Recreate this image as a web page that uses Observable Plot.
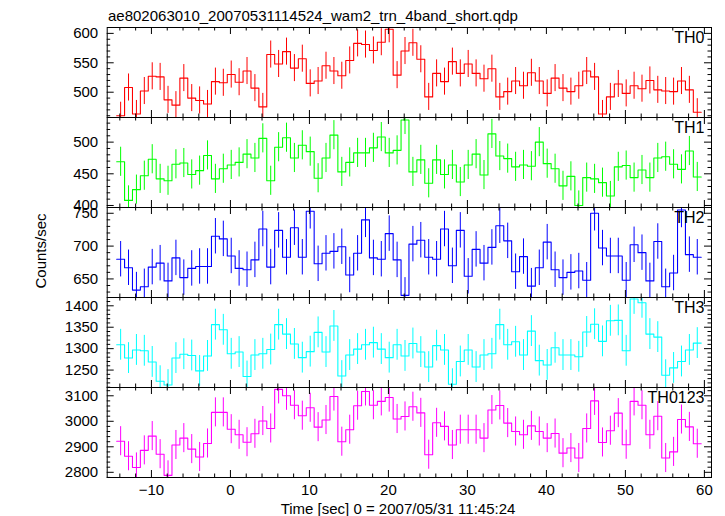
<!DOCTYPE html>
<html><head><meta charset="utf-8">
<script src="https://cdn.jsdelivr.net/npm/d3@7"></script>
<script src="https://cdn.jsdelivr.net/npm/@observablehq/plot@0.6"></script>
<style>
body{margin:0;background:#fff;font-family:"Liberation Sans",Arial,Helvetica,sans-serif;}
#wrap{position:relative;width:725px;height:516px;overflow:hidden;background:#fff;}
.lbl{position:absolute;white-space:nowrap;color:#000;line-height:1;}
.panel{position:absolute;left:0;}
</style></head><body>
<div id="wrap">
 <div class="lbl" style="left:108px;top:8px;font-size:15px;">ae802063010_20070531114524_wam2_trn_4band_short.qdp</div>
 <div class="lbl" style="left:40px;top:251px;font-size:15px;transform:translate(-50%,-50%) rotate(-90deg);">Counts/sec</div>
 <div class="lbl" style="left:398px;top:501px;font-size:15px;transform:translateX(-50%);">Time [sec] 0 = 2007/05/31 11:45:24</div>
</div>
<script>
// ---- data ----
const bands = ["TH0", "TH1", "TH2", "TH3", "TH0123"];
const colors = ["#ff0000", "#00ff00", "#0000ff", "#00ffff", "#ff00ff"];
const t0 = -13.9;      // centre of first 1-s bin (sec)
const binWidth = 1;
const th0 = [460,508,463,502,527,526,487,478,524,490,486,480,518,516,530,517,536,507,475,564,
  548,569,541,557,515,519,545,536,528,554,583,581,571,585,607,529,570,584,556,492,
  532,518,552,532,548,532,523,540,492,501,519,511,533,519,498,524,507,501,511,536,
  526,463,492,514,498,511,506,520,504,502,501,519,504,466];
const th1 = [469,408,425,447,473,442,439,465,467,449,455,479,442,458,464,468,481,475,506,439,
  492,507,475,495,485,443,475,511,453,468,483,483,491,508,483,487,535,453,472,435,
  472,449,464,437,464,481,448,513,478,474,461,464,462,500,466,458,431,446,400,444,
  442,436,415,461,463,444,456,444,475,477,465,457,486,445];
const th2 = [680,667,633,638,668,674,647,682,652,666,669,669,715,711,685,666,664,679,726,668,
  724,683,728,683,753,673,689,692,699,656,689,740,682,680,719,679,625,703,709,683,
  680,726,670,724,654,695,674,698,731,708,661,684,639,667,706,664,652,660,662,648,
  750,697,685,685,648,702,690,647,707,638,659,755,687,683];
const th3 = [1309,1278,1297,1295,1269,1224,1215,1278,1287,1284,1248,1283,1356,1344,1288,1292,1235,1285,1288,1298,
  1356,1334,1311,1279,1293,1338,1292,1353,1236,1285,1299,1309,1314,1299,1279,1309,1283,1312,1292,1257,
  1307,1297,1217,1270,1297,1257,1285,1288,1356,1309,1316,1285,1341,1272,1262,1302,1285,1285,1281,1339,
  1357,1317,1365,1366,1295,1416,1407,1334,1327,1238,1255,1270,1297,1313];
const th4 = [2922,2863,2819,2886,2942,2871,2788,2907,2934,2891,2860,2913,3035,3035,2969,2947,2918,2951,3001,2972,
  3125,3100,3063,3022,3053,2977,3005,3097,2920,2967,3061,3117,3063,3078,3093,3009,3019,3057,3033,2869,
  2994,2980,2907,2967,2967,2967,2934,3044,3062,2993,2960,2947,2982,2960,2934,2952,2875,2895,2856,2972,
  3080,2917,2963,3032,2908,3078,3063,2947,3020,2856,2880,3007,2978,2912];
const errors = [23, 23, 27, 36, 57];          // 1-sigma error half-lengths per band
const yDomains = [[457, 610], [396.8, 538.9], [621.7, 758.8], [1209.3, 1419.4], [2779.6, 3132.5]];
const yLabels = [[500, 550, 600], [400, 450, 500], [650, 700, 750], [1250, 1300, 1350, 1400], [2800, 2900, 3000, 3100]];
const yMinorStep = [10, 10, 10, 10, 20];
const xDomain = [-15.6, 60.9];
const xLabels = [-10, 0, 10, 20, 30, 40, 50, 60];
const xMinorStep = 2;

// ---- layout ----
const W = 725, ML = 106.7, MR = 14, PTOP = 27, PH = 90, PAD = 10, XAXIS = 30;
const series = [th0, th1, th2, th3, th4];
const wrap = document.getElementById("wrap");
const font = '"Liberation Sans", Arial, Helvetica, sans-serif';
const fmt = d3.format("d");

series.forEach((vals, k) => {
  const last = k === series.length - 1;
  const data = vals.map((v, i) => ({t: t0 + i * binWidth, v}));
  const steps = data.map(d => ({x: d.t - binWidth / 2, v: d.v}))
    .concat([{x: data[data.length - 1].t + binWidth / 2, v: data[data.length - 1].v}]);
  const [lo, hi] = yDomains[k];
  const yPerPx = (hi - lo) / PH;
  const xPerPx = (xDomain[1] - xDomain[0]) / (W - ML - MR);
  const xt = d3.range(-14, xDomain[1], xMinorStep);
  const yt = d3.range(Math.ceil(lo / yMinorStep[k]) * yMinorStep[k], hi, yMinorStep[k]);
  const xLen = d => (xLabels.includes(d) ? 7 : 3.5);
  const yLen = d => (yLabels[k].includes(d) ? 7 : 3.5);
  const err = errors[k];
  const marks = [
    Plot.ruleX(data, {x: "t", y1: d => d.v - err, y2: d => d.v + err, stroke: colors[k], strokeWidth: 1, clip: true}),
    Plot.line(steps, {x: "x", y: "v", curve: "step-after", stroke: colors[k], strokeWidth: 1.1, clip: true}),
    Plot.ruleX(xt, {x: d => d, y1: lo, y2: d => lo + xLen(d) * yPerPx, stroke: "#000"}),
    Plot.ruleX(xt, {x: d => d, y1: hi, y2: d => hi - xLen(d) * yPerPx, stroke: "#000"}),
    Plot.ruleY(yt, {y: d => d, x1: xDomain[0], x2: d => xDomain[0] + yLen(d) * xPerPx, stroke: "#000"}),
    Plot.ruleY(yt, {y: d => d, x1: xDomain[1], x2: d => xDomain[1] - yLen(d) * xPerPx, stroke: "#000"}),
    Plot.frame({stroke: "#000", strokeWidth: 1}),
    Plot.axisY(yLabels[k], {anchor: "left", tickSize: 0, tickPadding: 9, fontSize: 15, label: null, tickFormat: fmt}),
    Plot.text([bands[k]], {frameAnchor: "top-right", text: d => d, dx: -7, dy: 4, fontSize: 16, fill: "#000"})
  ];
  if (last) marks.push(Plot.axisX(xLabels, {anchor: "bottom", tickSize: 0, tickPadding: 7, fontSize: 15, label: null, tickFormat: fmt}));
  const svg = Plot.plot({
    width: W,
    height: PH + 2 * PAD + (last ? XAXIS : 0),
    marginLeft: ML, marginRight: MR, marginTop: PAD, marginBottom: PAD + (last ? XAXIS : 0),
    x: {domain: xDomain, axis: null},
    y: {domain: [lo, hi], axis: null},
    style: {background: "transparent", overflow: "visible", fontFamily: font, fontSize: "15px", color: "#000"},
    marks
  });
  svg.classList.add("panel");
  svg.style.top = (PTOP + k * PH - PAD) + "px";
  wrap.appendChild(svg);
});
</script>
</body></html>
